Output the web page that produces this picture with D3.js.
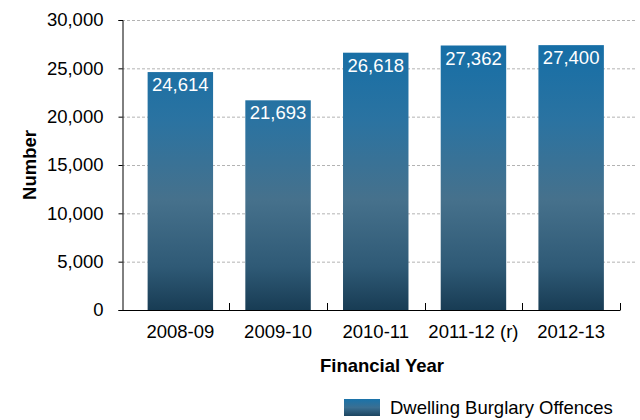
<!DOCTYPE html>
<html>
<head>
<meta charset="utf-8">
<script src="https://cdn.jsdelivr.net/npm/d3@7"></script>
<style>
  html, body { margin: 0; padding: 0; background: #fff; }
  svg { display: block; font-family: "Liberation Sans", Arial, sans-serif; }
</style>
</head>
<body>
<svg id="chart" width="640" height="420"></svg>
<script>
// Dwelling burglary offences by financial year
const categories = ["2008-09", "2009-10", "2010-11", "2011-12 (r)", "2012-13"];
const values = [24614, 21693, 26618, 27362, 27400];
const yTicks = [0, 5000, 10000, 15000, 20000, 25000, 30000];
const seriesName = "Dwelling Burglary Offences";

const svg = d3.select("#chart");
const axisX0 = 122, bandX0 = 131.5, plotX1 = 620, gridX1 = 636;
const plotTop = 20, plotBottom = 310;

const x = d3.scaleBand().domain(categories).range([bandX0, plotX1]).paddingInner(0.33).paddingOuter(0.165);
const y = d3.scaleLinear().domain([0, 30000]).range([plotBottom, plotTop]);

// vertical gradient shared by all bars
const defs = svg.append("defs");
const grad = defs.append("linearGradient")
  .attr("id", "barGrad").attr("gradientUnits", "userSpaceOnUse")
  .attr("x1", 0).attr("x2", 0).attr("y1", plotTop).attr("y2", plotBottom);
[[0, "#0f6da8"], [0.35, "#2b73a1"], [0.62, "#46718c"], [0.85, "#2f5a76"], [1, "#183c54"]]
  .forEach(([o, c]) => grad.append("stop").attr("offset", o).attr("stop-color", c));
const legGrad = defs.append("linearGradient")
  .attr("id", "legGrad").attr("x1", 0).attr("x2", 0).attr("y1", 0).attr("y2", 1);
[[0, "#1a73aa"], [0.5, "#3a6f92"], [1, "#1c4560"]]
  .forEach(([o, c]) => legGrad.append("stop").attr("offset", o).attr("stop-color", c));

// dashed gridlines
svg.append("g").selectAll("line").data(yTicks.filter(t => t > 0)).join("line")
  .attr("x1", axisX0).attr("x2", gridX1)
  .attr("y1", d => y(d) + 0.5).attr("y2", d => y(d) + 0.5)
  .attr("stroke", "#b3b3b3").attr("stroke-width", 1).attr("stroke-dasharray", "3,2");

// bars
svg.append("g").selectAll("rect").data(values).join("rect")
  .attr("x", (d, i) => x(categories[i]))
  .attr("y", d => y(d))
  .attr("width", x.bandwidth())
  .attr("height", d => plotBottom - y(d))
  .attr("fill", "url(#barGrad)");

// value labels inside bar tops
svg.append("g").selectAll("text").data(values).join("text")
  .attr("x", (d, i) => x(categories[i]) + x.bandwidth() / 2)
  .attr("y", d => y(d) + 19)
  .attr("text-anchor", "middle")
  .attr("fill", "#fff").attr("font-size", "18.5px")
  .text(d => d3.format(",")(d));

// y axis
const yAxis = svg.append("g").attr("transform", `translate(${axisX0 + 0.5},0)`)
  .call(d3.axisLeft(y).tickValues(yTicks).tickFormat(d3.format(",")).tickSizeOuter(0).tickSize(4).tickPadding(15));
yAxis.select(".domain").attr("stroke", "#000");
yAxis.selectAll(".tick line").attr("stroke", "#000");
yAxis.selectAll(".tick text").attr("font-size", "18.5px").attr("fill", "#000")
  .attr("font-family", "Liberation Sans, Arial, sans-serif");

// x axis line and category separators
svg.append("line").attr("x1", axisX0).attr("x2", plotX1 + 0.5)
  .attr("y1", plotBottom + 0.5).attr("y2", plotBottom + 0.5).attr("stroke", "#000");
const step = x.step();
const seps = categories.map((c, i) => bandX0 + step * (i + 1));
svg.append("g").selectAll("line").data(seps).join("line")
  .attr("x1", d => Math.round(d) + 0.5).attr("x2", d => Math.round(d) + 0.5)
  .attr("y1", plotBottom - 7).attr("y2", plotBottom)
  .attr("stroke", "#000");

// category labels
svg.append("g").selectAll("text").data(categories).join("text")
  .attr("x", d => x(d) + x.bandwidth() / 2)
  .attr("y", 338)
  .attr("text-anchor", "middle").attr("font-size", "18.5px").attr("fill", "#000")
  .text(d => d);

// axis titles
svg.append("text").attr("x", 382).attr("y", 372).attr("text-anchor", "middle")
  .attr("font-size", "18.5px").attr("font-weight", "bold").text("Financial Year");
svg.append("text").attr("transform", "translate(36,165) rotate(-90)").attr("text-anchor", "middle")
  .attr("font-size", "18.5px").attr("font-weight", "bold").text("Number");

// legend
const leg = svg.append("g");
leg.append("rect").attr("x", 344).attr("y", 399).attr("width", 36).attr("height", 17).attr("fill", "url(#legGrad)");
leg.append("text").attr("x", 390).attr("y", 414).attr("font-size", "18.5px").attr("fill", "#000").text(seriesName);
</script>
</body>
</html>
